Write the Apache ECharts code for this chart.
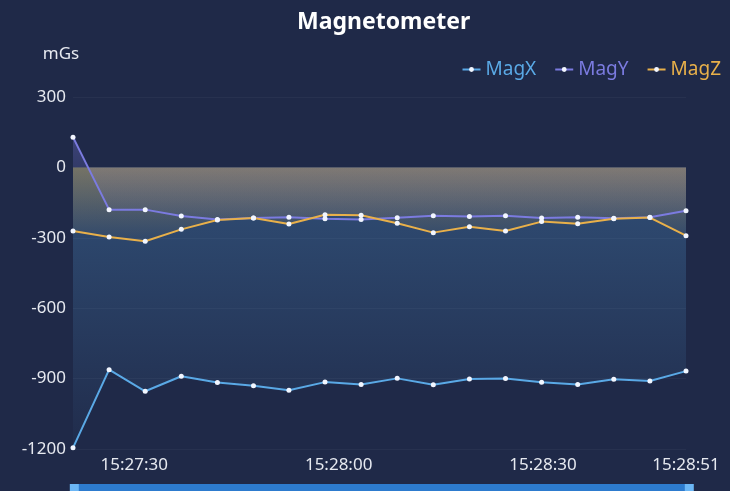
<!DOCTYPE html>
<html>
<head>
<meta charset="utf-8">
<script src="https://cdn.jsdelivr.net/npm/echarts@6/dist/echarts.min.js"></script>
<style>
  html, body { margin: 0; padding: 0; background: #1f2948; }
  #chart { width: 730px; height: 491px; }
</style>
</head>
<body>
<div id="chart"></div>
<script>
// sample times (15:27:21 .. 15:28:51)
const times = ['15:27:21.000', '15:27:26.300', '15:27:31.600', '15:27:36.900', '15:27:42.200', '15:27:47.500',
  '15:27:52.700', '15:27:58.000', '15:28:03.300', '15:28:08.600', '15:28:13.900', '15:28:19.200',
  '15:28:24.500', '15:28:29.800', '15:28:35.100', '15:28:40.400', '15:28:45.700', '15:28:51.000']
const magX = [-1195, -862, -954, -890, -917, -930, -950, -915, -925, -899, -926, -902, -900, -916, -925, -903, -910, -868]
const magY = [129, -180, -180, -207, -222, -216, -212, -219, -222, -215, -206, -209, -206, -216, -212, -217, -212, -185]
const magZ = [-271, -297, -315, -264, -224, -216, -241, -202, -204, -238, -278, -253, -271, -231, -240, -219, -214, -291]
const seriesNames = ['MagX', 'MagY', 'MagZ']
const seriesColors = ['#5aa9e6', '#7b7be0', '#e8b04a']
const yTicks = [300, 0, -300, -600, -900, -1200]

const day = '2024-01-01 '
const toPairs = vals => vals.map((v, i) => [day + times[i], v])
const lastTime = echarts.time.parse(day + times[times.length - 1]).getTime()

function areaGrad(rgb, top, bottom) {
  return new echarts.graphic.LinearGradient(0, 0, 0, 1, [
    { offset: 0, color: 'rgba(' + rgb + ',' + top + ')' },
    { offset: 1, color: 'rgba(' + rgb + ',' + bottom + ')' }
  ])
}

function timeLabel(value) {
  const d = new Date(value)
  const pad = n => String(n).padStart(2, '0')
  const text = pad(d.getHours()) + ':' + pad(d.getMinutes()) + ':' + pad(d.getSeconds())
  // only half-minute marks and the last sample
  if (Math.abs(value - lastTime) < 500) return text
  if (d.getSeconds() % 30 === 0 && d.getMilliseconds() === 0) return text
  return ''
}

const myChart = echarts.init(document.getElementById('chart'))
const lineSeries = (name, color, vals, area) => ({
  name: name,
  type: 'line',
  data: toPairs(vals),
  symbol: 'circle',
  symbolSize: 5,
  showSymbol: true,
  lineStyle: { color: color, width: 2 },
  itemStyle: { color: '#f2f6ff', borderColor: color, borderWidth: 0 },
  areaStyle: { color: area },
  emphasis: { disabled: true },
})

let option = {
  backgroundColor: '#1f2948',
  animation: false,
  title: {
    text: 'Magnetometer',
    left: 292,
    top: 6,
    textStyle: { color: '#ffffff', fontFamily: 'Noto Sans', fontWeight: 'bold', fontSize: 23 },
  },
  legend: {
    right: 4,
    top: 55,
    itemWidth: 18,
    itemHeight: 6,
    itemGap: 18,
    textStyle: { fontFamily: 'Noto Sans', fontSize: 19 },
    data: seriesNames.map((n, i) => ({ name: n, textStyle: { color: seriesColors[i] } })),
  },
  grid: { left: 73, right: 44, top: 97, bottom: 42 },
  xAxis: {
    type: 'time',
    splitNumber: 9,
    axisLine: { show: false },
    axisTick: { show: false },
    splitLine: { show: false },
    axisLabel: {
      color: '#e6e9f0',
      fontFamily: 'Noto Sans',
      fontSize: 17,
      margin: 8,
      formatter: timeLabel,
      hideOverlap: false,
      showMinLabel: false,
      showMaxLabel: true,
    },
  },
  yAxis: {
    type: 'value',
    name: 'mGs',
    nameGap: 34,
    nameTextStyle: { color: '#e6e9f0', fontFamily: 'Noto Sans', fontSize: 17, align: 'center', padding: [0, 24, 0, 0] },
    min: yTicks[yTicks.length - 1],
    max: yTicks[0],
    interval: 300,
    axisLine: { show: false },
    axisTick: { show: false },
    axisLabel: { color: '#e6e9f0', fontFamily: 'Noto Sans', fontSize: 17, margin: 7, formatter: v => String(v) },
    splitLine: { show: true, lineStyle: { color: 'rgba(255,255,255,0.04)' } },
  },
  dataZoom: [{
    type: 'slider',
    xAxisIndex: 0,
    start: 0,
    end: 100,
    left: 73,
    right: 40,
    top: 484,
    height: 30,
    showDetail: false,
    showDataShadow: false,
    brushSelect: false,
    moveHandleSize: 0,
    backgroundColor: 'transparent',
    borderColor: 'transparent',
    fillerColor: 'rgba(46,128,214,0.95)',
    handleSize: '100%',
    handleIcon: 'path://M0,0 L3,0 L3,10 L0,10 Z',
    handleStyle: { color: '#6bb6f5', borderColor: '#6bb6f5', borderWidth: 0 },
  }],
  series: [
    lineSeries(seriesNames[0], seriesColors[0], magX, areaGrad('90,169,230', 0.42, 0.03)),
    lineSeries(seriesNames[1], seriesColors[1], magY, areaGrad('123,123,224', 0.45, 0.05)),
    lineSeries(seriesNames[2], seriesColors[2], magZ, areaGrad('236,178,72', 0.52, 0.02)),
  ],
}
option && myChart.setOption(option)
</script>
</body>
</html>
